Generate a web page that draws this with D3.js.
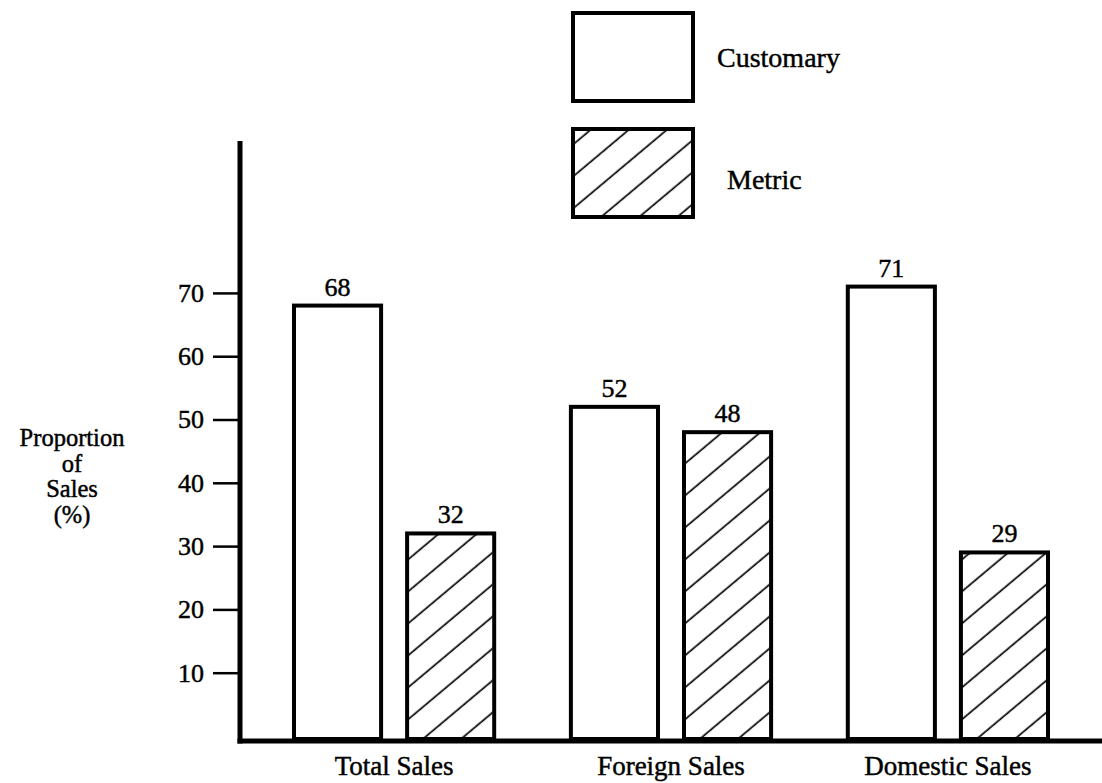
<!DOCTYPE html>
<html>
<head>
<meta charset="utf-8">
<script src="https://cdn.jsdelivr.net/npm/d3@7"></script>
<style>
  html, body { margin: 0; padding: 0; background: #fff; }
  svg text {
    font-family: "Liberation Serif", "Times New Roman", serif;
    fill: #000;
    stroke: #000;
    stroke-width: 0.45px;
  }
</style>
</head>
<body>
<svg id="chart" width="1102" height="783"></svg>
<script>
// Sales split between customary and metric units (%)
const categories = ["Total Sales", "Foreign Sales", "Domestic Sales"];
const seriesNames = ["Customary", "Metric"];
const customaryValues = [68, 52, 71];
const metricValues = [32, 48, 29];
const yTicks = [10, 20, 30, 40, 50, 60, 70];
const yLabelLines = ["Proportion", "of", "Sales", "(%)"];

const W = 1102, H = 783;
const WORD_FONT = 28;
const NUM_FONT = 26;
const svg = d3.select("#chart");

// diagonal hatching for the metric series
const defs = svg.append("defs");
const hatch = defs.append("pattern")
  .attr("id", "hatch")
  .attr("patternUnits", "userSpaceOnUse")
  .attr("width", 24.5).attr("height", 24.5)
  .attr("patternTransform", "rotate(-40)");
hatch.append("rect").attr("width", 24.5).attr("height", 24.5).attr("fill", "#fff");
hatch.append("line")
  .attr("x1", -2).attr("y1", 12).attr("x2", 27).attr("y2", 12)
  .attr("stroke", "#000").attr("stroke-width", 1.7);

const fills = { "Customary": "#fff", "Metric": "url(#hatch)" };

// scales
const axisX = 240;
const y = d3.scaleLinear().domain([0, 94]).range([736, 141]);
const baseY = 741;

const x0 = d3.scaleBand().domain(categories).range([294, 1048])
  .paddingInner(0.277).paddingOuter(0);
const x1 = d3.scaleBand().domain(seriesNames).range([0, x0.bandwidth()])
  .paddingInner(0.23);

const rows = categories.map((c, i) => ({
  category: c,
  values: [
    { series: "Customary", value: customaryValues[i] },
    { series: "Metric", value: metricValues[i] }
  ]
}));

// bars
const groups = svg.append("g").selectAll("g.group")
  .data(rows).join("g")
  .attr("class", "group")
  .attr("transform", d => `translate(${x0(d.category)},0)`);

groups.selectAll("rect")
  .data(d => d.values).join("rect")
  .attr("x", d => x1(d.series))
  .attr("y", d => y(d.value))
  .attr("width", x1.bandwidth())
  .attr("height", d => y(0) - y(d.value) + 3)
  .attr("fill", d => fills[d.series])
  .attr("stroke", "#000")
  .attr("stroke-width", 4);

groups.selectAll("text.val")
  .data(d => d.values).join("text")
  .attr("class", "val")
  .attr("x", d => x1(d.series) + x1.bandwidth() / 2)
  .attr("y", d => y(d.value) - 10)
  .attr("text-anchor", "middle")
  .attr("font-size", NUM_FONT)
  .text(d => d.value);

// y axis ticks and labels
const yAxis = d3.axisLeft(y).tickValues(yTicks).tickSize(27).tickPadding(9)
  .tickFormat(d3.format("d"));
const gy = svg.append("g").attr("transform", `translate(${axisX},0)`).call(yAxis);
gy.select(".domain").remove();
gy.selectAll(".tick line").attr("stroke", "#000").attr("stroke-width", 2.5);
gy.selectAll(".tick text")
  .attr("font-size", NUM_FONT)
  .attr("fill", "#000");

// axis lines
svg.append("line")
  .attr("x1", axisX).attr("x2", axisX)
  .attr("y1", y.range()[1]).attr("y2", baseY + 2.5)
  .attr("stroke", "#000").attr("stroke-width", 5);
svg.append("line")
  .attr("x1", axisX - 2.5).attr("x2", W)
  .attr("y1", baseY).attr("y2", baseY)
  .attr("stroke", "#000").attr("stroke-width", 5);

// category labels
svg.append("g").selectAll("text")
  .data(categories).join("text")
  .attr("x", d => x0(d) + x0.bandwidth() / 2)
  .attr("y", 775)
  .attr("text-anchor", "middle")
  .attr("font-size", 27)
  .text(d => d);

// y axis title, one line per word
const yTitle = svg.append("text")
  .attr("x", 72)
  .attr("y", 446)
  .attr("text-anchor", "middle")
  .attr("font-size", 24.5);
yTitle.selectAll("tspan")
  .data(yLabelLines).join("tspan")
  .attr("x", 72)
  .attr("dy", (d, i) => i === 0 ? 0 : 25.5)
  .text(d => d);

// legend
const legend = svg.append("g").attr("transform", "translate(573,13)");
const legendItems = legend.selectAll("g")
  .data(seriesNames).join("g")
  .attr("transform", (d, i) => `translate(0,${i * 116})`);
legendItems.append("rect")
  .attr("width", 120).attr("height", 88)
  .attr("fill", d => fills[d])
  .attr("stroke", "#000").attr("stroke-width", 4);
legendItems.append("text")
  .attr("x", (d, i) => 144 + i * 10)
  .attr("y", (d, i) => 54 + i * 6)
  .attr("font-size", WORD_FONT)
  .text(d => d);
</script>
</body>
</html>
